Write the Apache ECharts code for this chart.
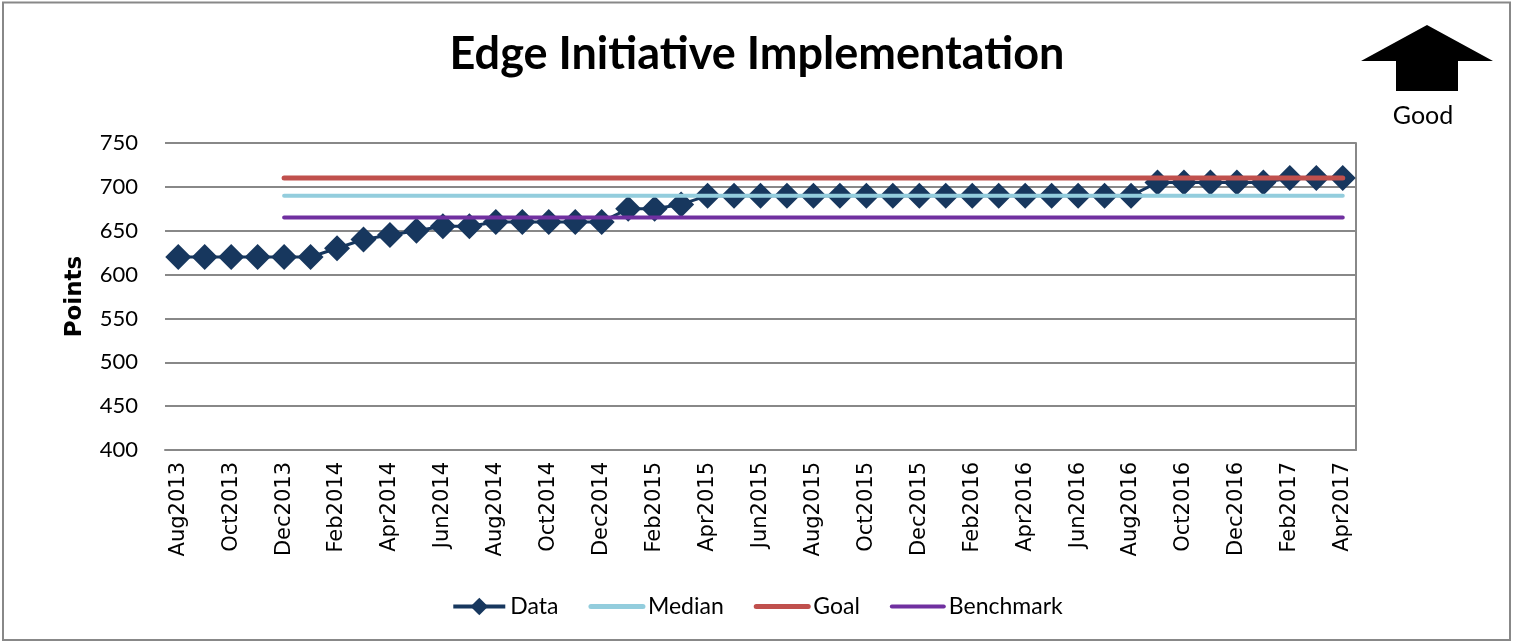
<!DOCTYPE html>
<html>
<head>
<meta charset="utf-8">
<script src="https://cdn.jsdelivr.net/npm/echarts@6/dist/echarts.min.js"></script>
<style>
html,body{margin:0;padding:0;background:#fff;}
#chart{width:1514px;height:642px;}
</style>
</head>
<body>
<div id="chart"></div>
<script>
const categories = [
  'Aug2013','Sep2013','Oct2013','Nov2013','Dec2013',
  'Jan2014','Feb2014','Mar2014','Apr2014','May2014','Jun2014','Jul2014','Aug2014','Sep2014','Oct2014','Nov2014','Dec2014',
  'Jan2015','Feb2015','Mar2015','Apr2015','May2015','Jun2015','Jul2015','Aug2015','Sep2015','Oct2015','Nov2015','Dec2015',
  'Jan2016','Feb2016','Mar2016','Apr2016','May2016','Jun2016','Jul2016','Aug2016','Sep2016','Oct2016','Nov2016','Dec2016',
  'Jan2017','Feb2017','Mar2017','Apr2017'
];
const dataValues = [
  620,620,620,620,620,
  620,630,640,645,650,655,655,660,660,660,660,660,
  675,675,680,690,690,690,690,690,690,690,690,690,
  690,690,690,690,690,690,690,690,705,705,705,705,
  705,710,710,710
];
const medianValues = [
  null,null,null,null,690,
  690,690,690,690,690,690,690,690,690,690,690,690,
  690,690,690,690,690,690,690,690,690,690,690,690,
  690,690,690,690,690,690,690,690,690,690,690,690,
  690,690,690,690
];
const goalValues = [
  null,null,null,null,710,
  710,710,710,710,710,710,710,710,710,710,710,710,
  710,710,710,710,710,710,710,710,710,710,710,710,
  710,710,710,710,710,710,710,710,710,710,710,710,
  710,710,710,710
];
const benchmarkValues = [
  null,null,null,null,665,
  665,665,665,665,665,665,665,665,665,665,665,665,
  665,665,665,665,665,665,665,665,665,665,665,665,
  665,665,665,665,665,665,665,665,665,665,665,665,
  665,665,665,665
];
const yTicks = {min: 400, max: 750, interval: 50};

const chart = echarts.init(document.getElementById('chart'), null, {renderer: 'canvas'});
const font = 'DejaVu Sans';
const option = {
  backgroundColor: '#fff',
  animation: false,
  title: {
    text: 'Edge Initiative Implementation',
    left: 752, top: 27, textAlign: 'center',
    textStyle: {fontFamily: 'Lato', fontWeight: 'bold', fontSize: 45, color: '#000'}
  },
  legend: {
    top: 590, left: 'center',
    itemWidth: 52, itemHeight: 22, itemGap: 30,
    textStyle: {fontFamily: 'Lato', fontSize: 23, color: '#000'},
    data: [
      {name: 'Data', lineStyle: {width: 4}},
      {name: 'Median', itemStyle: {opacity: 0}, lineStyle: {width: 5}},
      {name: 'Goal', itemStyle: {opacity: 0}, lineStyle: {width: 5}},
      {name: 'Benchmark', itemStyle: {opacity: 0}, lineStyle: {width: 4}}
    ]
  },
  grid: {left: 165, right: 158, top: 143, bottom: 192, containLabel: false},
  xAxis: {
    type: 'category',
    data: categories,
    boundaryGap: true,
    axisLine: {show: true, lineStyle: {color: '#888', width: 2}},
    axisTick: {show: false},
    axisLabel: {interval: 1, rotate: 90, margin: 12, fontFamily: font, fontSize: 21, color: '#000'},
    splitLine: {show: false}
  },
  yAxis: [{
    type: 'value',
    min: yTicks.min, max: yTicks.max, interval: yTicks.interval,
    name: 'Points', nameLocation: 'middle', nameGap: 78, nameRotate: 90,
    nameTextStyle: {fontFamily: font, fontWeight: 'bold', fontSize: 23, color: '#000'},
    axisLine: {show: false}, axisTick: {show: false},
    axisLabel: {fontFamily: 'Lato', fontSize: 22, color: '#000', margin: 27},
    splitLine: {show: true, lineStyle: {color: '#888', width: 2}}
  }, {
    type: 'value', position: 'right',
    min: yTicks.min, max: yTicks.max, interval: yTicks.interval,
    axisLine: {show: true, lineStyle: {color: '#888', width: 2}},
    axisTick: {show: false}, axisLabel: {show: false}, splitLine: {show: false}
  }],
  series: [
    {
      name: 'Data', type: 'line', data: dataValues, z: 2,
      symbol: 'diamond', symbolSize: 26, showAllSymbol: true,
      itemStyle: {color: '#17375E'},
      lineStyle: {color: '#17375E', width: 3}
    },
    {
      name: 'Median', type: 'line', data: medianValues, z: 4,
      symbol: 'none', itemStyle: {color: '#93CDDD'},
      lineStyle: {color: '#93CDDD', width: 4, cap: 'round'}
    },
    {
      name: 'Goal', type: 'line', data: goalValues, z: 4,
      symbol: 'none', itemStyle: {color: '#C0504D'},
      lineStyle: {color: '#C0504D', width: 5, cap: 'round'}
    },
    {
      name: 'Benchmark', type: 'line', data: benchmarkValues, z: 4,
      symbol: 'none', itemStyle: {color: '#7030A0'},
      lineStyle: {color: '#7030A0', width: 4, cap: 'round'}
    }
  ],
  graphic: [
    {
      type: 'rect', silent: true, z: -1,
      shape: {x: 3, y: 2.5, width: 1507, height: 637.5},
      style: {fill: 'none', stroke: '#888', lineWidth: 2}
    },
    {
      type: 'polygon', silent: true,
      shape: {points: [[1427,25],[1493,61],[1458,61],[1458,91],[1396,91],[1396,61],[1361,61]]},
      style: {fill: '#000'}
    },
    {
      type: 'text', silent: true,
      style: {text: 'Good', x: 1423, y: 116, align: 'center', verticalAlign: 'middle',
              fontFamily: 'Lato', fontSize: 25, fill: '#000'}
    }
  ]
};
chart.setOption(option);
</script>
</body>
</html>
